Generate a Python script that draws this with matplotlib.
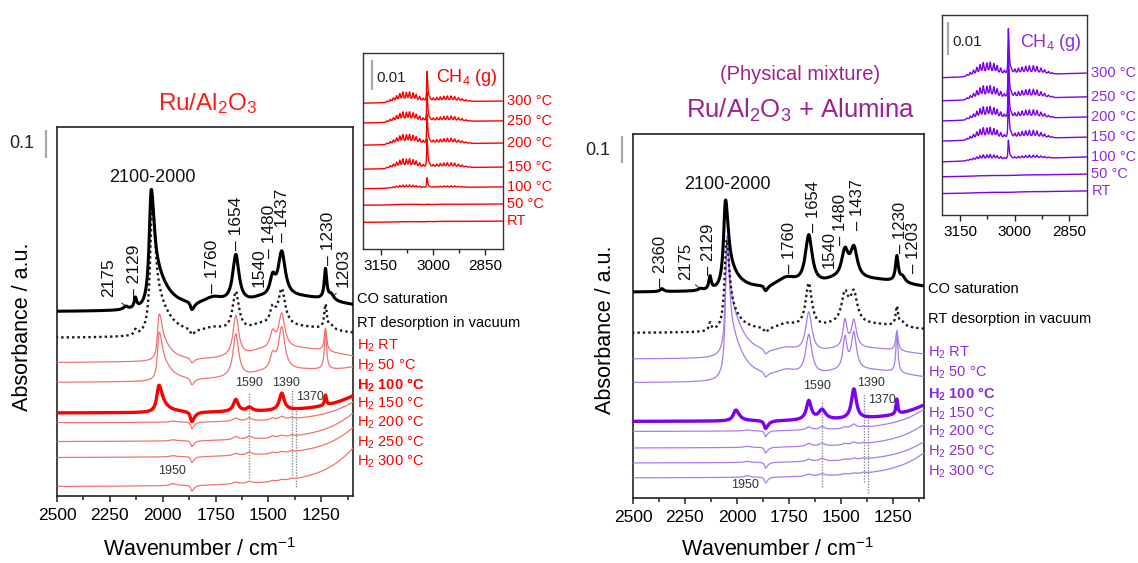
import numpy as np
import matplotlib
matplotlib.use("Agg")
import matplotlib.pyplot as plt
from matplotlib.transforms import blended_transform_factory

plt.rcParams.update({
    'font.family': ['Liberation Sans', 'DejaVu Sans'],
    'mathtext.fontset': 'custom',
    'mathtext.rm': 'Liberation Sans',
    'mathtext.it': 'Liberation Sans:italic',
    'mathtext.bf': 'Liberation Sans:bold',
})

# ---------------------------------------------------------------- data
# IR bands of each spectrum:
# (position / cm-1, height / a.u., HWHM on low-wavenumber side, HWHM on high side)

# --- Ru/Al2O3
ru_offsets = [0.657, 0.564, 0.475, 0.404, 0.296, 0.261, 0.193, 0.136, 0.032]
ru_co_sat = [(2175, 0.011, 12, 12), (2129, 0.036, 7, 7), (2055, 0.365, 15, 11),
             (2040, 0.125, 70, 15), (1862, -0.029, 15, 8), (1760, 0.029, 60, 60),
             (1654, 0.171, 18, 18), (1540, 0.011, 50, 50), (1480, 0.064, 15, 15),
             (1437, 0.161, 20, 20), (1230, 0.107, 7, 7), (1203, 0.021, 15, 15),
             (1350, 0.050, 250, 250)]
ru_rt_vac = [(2129, 0.018, 7, 7), (2050, 0.420, 15, 11), (2035, 0.125, 70, 15),
             (1862, -0.021, 15, 8), (1760, 0.018, 60, 60), (1654, 0.139, 18, 18),
             (1540, 0.018, 50, 50), (1480, 0.057, 15, 15), (1437, 0.132, 20, 20),
             (1230, 0.086, 7, 7), (1203, 0.014, 15, 15), (1350, 0.036, 250, 250)]
ru_h2_rt = [(2018, 0.136, 14, 8), (2005, 0.064, 50, 12), (1862, -0.018, 15, 8),
            (1654, 0.146, 16, 16), (1540, 0.011, 50, 50), (1480, 0.057, 15, 15),
            (1437, 0.125, 18, 18), (1230, 0.082, 7, 7), (1350, 0.050, 250, 250)]
ru_h2_50 = [(2018, 0.143, 14, 8), (2005, 0.064, 50, 12), (1862, -0.025, 15, 8),
            (1654, 0.154, 16, 16), (1540, 0.007, 50, 50), (1480, 0.054, 15, 15),
            (1437, 0.154, 18, 18), (1230, 0.143, 6, 6), (1350, 0.036, 250, 250),
            (1000, 0.054, 160, 160)]
ru_h2_100 = [(2018, 0.093, 18, 12), (2000, 0.014, 50, 12), (1862, -0.036, 15, 8),
             (1654, 0.043, 14, 14), (1590, 0.014, 15, 15), (1437, 0.061, 14, 14),
             (1230, 0.036, 5, 5), (1000, 0.086, 160, 160)]
ru_h2_150 = [(1950, 0.004, 15, 15), (1862, -0.025, 12, 6), (1654, 0.011, 15, 15),
             (1590, 0.011, 15, 15), (1480, 0.007, 12, 12), (1437, 0.011, 14, 14),
             (1390, 0.005, 10, 10), (1000, 0.104, 160, 160)]
ru_h2_200 = [(1950, 0.004, 15, 15), (1862, -0.021, 12, 6), (1654, 0.011, 15, 15),
             (1590, 0.011, 15, 15), (1480, 0.007, 12, 12), (1437, 0.007, 14, 14),
             (1390, 0.005, 10, 10), (1000, 0.143, 160, 160)]
ru_h2_250 = [(1950, 0.004, 15, 15), (1862, -0.021, 12, 6), (1654, 0.007, 15, 15),
             (1590, 0.011, 15, 15), (1480, 0.005, 12, 12), (1437, 0.005, 14, 14),
             (1390, 0.004, 10, 10), (1000, 0.150, 160, 160)]
ru_h2_300 = [(1950, 0.007, 15, 15), (1862, -0.021, 12, 6), (1654, 0.007, 15, 15),
             (1590, 0.007, 15, 15), (1480, 0.004, 12, 12), (1437, 0.004, 14, 14),
             (1390, 0.004, 10, 10), (1000, 0.193, 160, 160)]

# --- Ru/Al2O3 + alumina (physical mixture)
mix_offsets = [0.769, 0.617, 0.519, 0.430, 0.286, 0.248, 0.186, 0.130, 0.074]
mix_co_sat = [(2360, 0.011, 10, 10), (2175, 0.007, 12, 12), (2129, 0.049, 7, 7),
              (2055, 0.305, 15, 11), (2040, 0.067, 60, 15), (1862, -0.022, 15, 8),
              (1760, 0.037, 60, 60), (1654, 0.184, 20, 20), (1540, 0.011, 50, 50),
              (1480, 0.105, 20, 20), (1437, 0.112, 20, 20), (1230, 0.094, 8, 8),
              (1203, 0.022, 15, 15), (1350, 0.045, 250, 250)]
mix_rt_vac = [(2129, 0.030, 7, 7), (2050, 0.310, 15, 11), (2035, 0.067, 60, 15),
              (1862, -0.019, 15, 8), (1760, 0.022, 60, 60), (1654, 0.165, 18, 18),
              (1540, 0.007, 50, 50), (1480, 0.112, 20, 20), (1437, 0.112, 20, 20),
              (1230, 0.071, 7, 7), (1203, 0.015, 15, 15), (1350, 0.030, 250, 250)]
mix_h2_rt = [(2048, 0.356, 12, 8), (2035, 0.169, 70, 15), (1862, -0.019, 15, 8),
             (1760, 0.022, 60, 60), (1654, 0.150, 18, 18), (1540, 0.007, 50, 50),
             (1480, 0.105, 12, 12), (1437, 0.105, 15, 15), (1230, 0.075, 7, 7),
             (1350, 0.037, 250, 250)]
mix_h2_50 = [(2048, 0.431, 12, 8), (2035, 0.169, 70, 15), (1862, -0.019, 15, 8),
             (1760, 0.026, 60, 60), (1654, 0.150, 18, 18), (1540, 0.007, 50, 50),
             (1480, 0.120, 12, 12), (1437, 0.139, 15, 15), (1230, 0.150, 6, 6),
             (1350, 0.045, 250, 250)]
mix_h2_100 = [(2005, 0.041, 20, 14), (1862, -0.030, 15, 8), (1654, 0.071, 14, 14),
              (1590, 0.037, 20, 20), (1437, 0.112, 14, 14), (1230, 0.056, 5, 5),
              (1000, 0.086, 160, 160)]
mix_h2_150 = [(1950, 0.004, 15, 15), (1862, -0.022, 12, 6), (1654, 0.011, 15, 15),
              (1590, 0.011, 15, 15), (1480, 0.006, 12, 12), (1437, 0.015, 14, 14),
              (1390, 0.004, 10, 10), (1000, 0.116, 160, 160)]
mix_h2_200 = [(1950, 0.004, 15, 15), (1862, -0.022, 12, 6), (1654, 0.011, 15, 15),
              (1590, 0.011, 15, 15), (1480, 0.006, 12, 12), (1437, 0.008, 14, 14),
              (1390, 0.004, 10, 10), (1000, 0.124, 160, 160)]
mix_h2_250 = [(1950, 0.004, 15, 15), (1862, -0.022, 12, 6), (1654, 0.009, 15, 15),
              (1590, 0.011, 15, 15), (1480, 0.004, 12, 12), (1437, 0.006, 14, 14),
              (1390, 0.004, 10, 10), (1000, 0.112, 160, 160)]
mix_h2_300 = [(1950, 0.006, 15, 15), (1862, -0.022, 12, 6), (1654, 0.008, 15, 15),
              (1590, 0.008, 15, 15), (1480, 0.004, 12, 12), (1437, 0.004, 14, 14),
              (1390, 0.004, 10, 10), (1000, 0.131, 160, 160)]

spectrum_names = ['CO saturation', 'RT desorption in vacuum',
                  'H$_\\mathregular{2}$ RT', 'H$_\\mathregular{2}$ 50 °C',
                  'H$_\\mathbf{2}$ 100 °C', 'H$_\\mathregular{2}$ 150 °C',
                  'H$_\\mathregular{2}$ 200 °C', 'H$_\\mathregular{2}$ 250 °C',
                  'H$_\\mathregular{2}$ 300 °C']

# --- gas-phase CH4 (nu3 band) in the cell
ch4_q = 3017
ch4_r_lines = [3028, 3038, 3048, 3057, 3067, 3076, 3086, 3095, 3104, 3113, 3122, 3131]
ch4_r_rel = [0.35, 0.55, 0.75, 0.9, 1.0, 0.95, 1.0, 0.85, 0.65, 0.45, 0.3, 0.15]
ch4_p_lines = [3009, 2999, 2989, 2979, 2969, 2959, 2948, 2938, 2927, 2917, 2906, 2896]
ch4_p_rel = [0.4, 0.6, 0.75, 0.85, 0.95, 1.0, 1.0, 0.9, 0.7, 0.5, 0.3, 0.15]

gas_names = ['300 °C', '250 °C', '200 °C', '150 °C', '100 °C', '50 °C', 'RT']
ru_gas_offset = [0.0493, 0.0427, 0.0353, 0.0273, 0.0207, 0.0150, 0.0093]
ru_gas_tilt = [0.0007, 0.0007, 0.0007, 0.0007, 0.0006, 0.0004, 0.0004]
ru_gas_q = [0.0100, 0.0098, 0.0097, 0.0095, 0.0033, 0.0002, 0.0001]
ru_gas_r = [0.0030, 0.0030, 0.0029, 0.0028, 0.0009, 0.0002, 0.0001]
ru_gas_p = [0.0017, 0.0016, 0.0016, 0.0015, 0.0005, 0.0001, 0.0001]

mix_gas_offset = [0.0430, 0.0358, 0.0297, 0.0236, 0.0176, 0.0124, 0.0073]
mix_gas_tilt = [0.0014, 0.0012, 0.0012, 0.0012, 0.0015, 0.0008, 0.0008]
mix_gas_q = [0.0139, 0.0135, 0.0132, 0.0125, 0.0058, 0.0, 0.0]
mix_gas_r = [0.0036, 0.0036, 0.0034, 0.0032, 0.0015, 0.0001, 0.0001]
mix_gas_p = [0.0024, 0.0024, 0.0023, 0.0022, 0.0010, 0.0001, 0.0001]

# --- band assignments written on the spectra
ru_peak_text = ['2175', '– 2129', '– 1760', '– 1654', '1540', '– 1480', '– 1437', '– 1230', '1203']
ru_peak_pos = [2254, 2132, 1763, 1650, 1546, 1494, 1432, 1215, 1149]
mix_peak_text = ['– 2360', '2175', '– 2129', '– 1760', '– 1654', '1540', '– 1480',
                 '– 1437', '– 1230', '– 1203']
mix_peak_pos = [2367, 2248, 2136, 1747, 1632, 1556, 1500, 1418, 1215, 1150]
marker_bands = [1590, 1390, 1370]

# ---------------------------------------------------------------- helpers
RED, RED_THIN = '#FF0000', '#F27272'
VIO, VIO_THIN, VIO_TXT = '#7B00F5', '#A97CEB', '#8A2BE2'
MAGENTA = '#A0208F'
GREY = '#8A8A8A'


def spectrum(wn, offset, bands):
    y = np.full_like(wn, offset, dtype=float)
    for pos, h, w_lo, w_hi in bands:
        w = np.where(wn < pos, w_lo, w_hi)
        y += h * w ** 2 / ((wn - pos) ** 2 + w ** 2)
    return y


def gas_spectrum(wn, offset, tilt, q, r, p):
    y = offset - tilt * (wn - 2800) / 400.0
    w = np.where(wn < ch4_q, 2.5, 1.2)
    y += q * w ** 2 / ((wn - ch4_q) ** 2 + w ** 2)
    for pos, rel in zip(ch4_r_lines, ch4_r_rel):
        y += r * rel * 2.5 ** 2 / ((wn - pos) ** 2 + 2.5 ** 2)
    for pos, rel in zip(ch4_p_lines, ch4_p_rel):
        y += p * rel * 2.5 ** 2 / ((wn - pos) ** 2 + 2.5 ** 2)
    return y


def style_main(ax, ymax):
    ax.set_xlim(2500, 1100)
    ax.set_ylim(0, ymax)
    ax.set_yticks([])
    ax.set_xticks([2500, 2250, 2000, 1750, 1500, 1250])
    ax.set_xticks([2375, 2125, 1875, 1625, 1375, 1125], minor=True)
    ax.tick_params(axis='x', which='major', direction='out', length=4.5, width=1.1,
                   labelsize=12.5, pad=4, color='#222')
    ax.tick_params(axis='x', which='minor', direction='out', length=3, width=1.1, color='#222')
    for s in ax.spines.values():
        s.set_linewidth(1.2)
        s.set_color('#222')


def style_gas(ax, ymax):
    ax.set_xlim(3200, 2800)
    ax.set_ylim(0, ymax)
    ax.set_yticks([])
    ax.set_xticks([3150, 3000, 2850])
    ax.set_xticks([3075, 2925], minor=True)
    ax.tick_params(axis='x', which='major', direction='out', length=4, width=1.0,
                   labelsize=11, pad=3, color='#222')
    ax.tick_params(axis='x', which='minor', direction='out', length=3, width=1.0, color='#222')
    for s in ax.spines.values():
        s.set_linewidth(1.0)
        s.set_color('#333')


def draw_main(ax, curves, offsets, col, col_thin, col_txt, label_y, label_x):
    wn = np.arange(1100, 2500.5, 0.5)
    styles = [dict(color='black', lw=2.2, zorder=6),
              dict(color='#1a1a1a', lw=1.7, ls=(0, (1, 1.3)), zorder=5),
              dict(color=col_thin, lw=0.9, zorder=3),
              dict(color=col_thin, lw=0.9, zorder=3),
              dict(color=col, lw=2.4, zorder=4),
              dict(color=col_thin, lw=0.9, zorder=3),
              dict(color=col_thin, lw=0.9, zorder=3),
              dict(color=col_thin, lw=0.9, zorder=3),
              dict(color=col_thin, lw=0.9, zorder=3)]
    trans = blended_transform_factory(ax.transAxes, ax.transData)
    for i, (bands, off) in enumerate(zip(curves, offsets)):
        ax.plot(wn, spectrum(wn, off, bands), **styles[i])
        ax.text(label_x, label_y[i], spectrum_names[i], transform=trans,
                ha='left', va='center', fontsize=10.5,
                color='black' if i < 2 else col_txt,
                fontweight='bold' if i == 4 else 'normal', clip_on=False)


def draw_gas(ax, offs, tilts, qs, rs, ps, col, col_txt):
    wn = np.arange(2800, 3200.01, 0.25)
    trans = blended_transform_factory(ax.transAxes, ax.transData)
    for i in range(len(offs)):
        ax.plot(wn, gas_spectrum(wn, offs[i], tilts[i], qs[i], rs[i], ps[i]),
                color=col, lw=1.0)
        ax.text(1.03, offs[i], gas_names[i], transform=trans, ha='left',
                va='center', fontsize=10.5, color=col_txt, clip_on=False)


def scale_bar(ax, x_axes, y0, length, text, text_x, text_y, fs, ha='center'):
    trans = blended_transform_factory(ax.transAxes, ax.transData)
    ax.plot([x_axes, x_axes], [y0, y0 + length], transform=trans, color='#A8A8A8',
            lw=1.6, clip_on=False, solid_capstyle='butt')
    ax.text(text_x, text_y, text, transform=trans, ha=ha, va='center',
            fontsize=fs, color='#222', clip_on=False)


# ---------------------------------------------------------------- figure
fig = plt.figure(figsize=(11.38, 5.63), dpi=100)
ax_ru = fig.add_axes([0.0501, 0.1190, 0.2601, 0.6554])
ax_ru_gas = fig.add_axes([0.3190, 0.5577, 0.1230, 0.3481])
ax_mix = fig.add_axes([0.5562, 0.1155, 0.2557, 0.6465])
ax_mix_gas = fig.add_axes([0.8278, 0.6181, 0.1274, 0.3552])

# ---- Ru/Al2O3 main panel
style_main(ax_ru, 1.318)
draw_main(ax_ru,
          [ru_co_sat, ru_rt_vac, ru_h2_rt, ru_h2_50, ru_h2_100, ru_h2_150,
           ru_h2_200, ru_h2_250, ru_h2_300],
          ru_offsets, RED, RED_THIN, RED,
          [0.704, 0.618, 0.536, 0.464, 0.396, 0.329, 0.261, 0.189, 0.121], 1.0135)
for s, x, y in zip(ru_peak_text, ru_peak_pos,
                   [0.711, 0.707, 0.725, 0.879, 0.746, 0.850, 0.907, 0.825, 0.746]):
    ax_ru.text(x, y, s, rotation=90, ha='center', va='bottom', fontsize=12.5, color='#111')
ax_ru.plot([2194, 2171], [0.689, 0.676], color='#444', lw=0.8)
ax_ru.plot([1180, 1196], [0.724, 0.712], color='#444', lw=0.8)
ax_ru.text(2051, 1.136, '2100-2000', ha='center', va='center', fontsize=13, color='#111')
for x, (y0, y1) in zip(marker_bands, [(0.064, 0.368), (0.075, 0.379), (0.032, 0.307)]):
    ax_ru.plot([x, x], [y0, y1], color=GREY, lw=1.0, ls=(0, (1, 1)), zorder=2)
for s, x, y in zip(['1590', '1390', '1370', '1950'], [1593, 1415, 1305, 1954],
                   [0.404, 0.404, 0.354, 0.089]):
    ax_ru.text(x, y, s, ha='center', va='center', fontsize=9, color='#333', zorder=7)
scale_bar(ax_ru, -0.037, 1.207, 0.1, '0.1', -0.118, 1.26, 13)
ax_ru.text(-0.118, 0.458, 'Absorbance / a.u.', transform=ax_ru.transAxes, rotation=90,
           ha='center', va='center', fontsize=15.5)
ax_ru.text(0.483, -0.146, 'Wavenumber / cm$^{\\mathregular{-1}}$', transform=ax_ru.transAxes,
           ha='center', va='center', fontsize=15.5)

# ---- Ru/Al2O3 gas-phase inset
style_gas(ax_ru_gas, 0.0653)
draw_gas(ax_ru_gas, ru_gas_offset, ru_gas_tilt, ru_gas_q, ru_gas_r, ru_gas_p, RED, RED)
scale_bar(ax_ru_gas, 0.064, 0.053, 0.01, '0.01', 0.093, 0.057, 11, ha='left')
ax_ru_gas.text(0.521, 0.057, 'CH$_\\mathregular{4}$ (g)', transform=blended_transform_factory(
    ax_ru_gas.transAxes, ax_ru_gas.transData), ha='left', va='center', fontsize=13, color=RED)

# ---- physical mixture main panel
style_main(ax_mix, 1.363)
draw_main(ax_mix,
          [mix_co_sat, mix_rt_vac, mix_h2_rt, mix_h2_50, mix_h2_100, mix_h2_150,
           mix_h2_200, mix_h2_250, mix_h2_300],
          mix_offsets, VIO, VIO_THIN, VIO_TXT,
          [0.782, 0.669, 0.542, 0.467, 0.390, 0.317, 0.246, 0.173, 0.099], 1.0137)
for s, x, y in zip(mix_peak_text, mix_peak_pos,
                   [0.791, 0.816, 0.835, 0.843, 0.996, 0.861, 0.948, 1.004, 0.918, 0.843]):
    ax_mix.text(x, y, s, rotation=90, ha='center', va='bottom', fontsize=12, color='#111')
ax_mix.plot([2199, 2179], [0.798, 0.786], color='#444', lw=0.8)
ax_mix.text(2048, 1.172, '2100-2000', ha='center', va='center', fontsize=13, color='#111')
for x, (y0, y1) in zip(marker_bands, [(0.042, 0.361), (0.061, 0.393), (0.019, 0.323)]):
    ax_mix.plot([x, x], [y0, y1], color=GREY, lw=1.0, ls=(0, (1, 1)), zorder=2)
for s, x, y in zip(['1590', '1390', '1370', '1950'], [1615, 1357, 1303, 1960],
                   [0.421, 0.430, 0.367, 0.049]):
    ax_mix.text(x, y, s, ha='center', va='center', fontsize=9, color='#333', zorder=7)
scale_bar(ax_mix, -0.038, 1.255, 0.1, '0.1', -0.12, 1.303, 13)
ax_mix.text(-0.096, 0.462, 'Absorbance / a.u.', transform=ax_mix.transAxes, rotation=90,
            ha='center', va='center', fontsize=15.5)
ax_mix.text(0.498, -0.143, 'Wavenumber / cm$^{\\mathregular{-1}}$', transform=ax_mix.transAxes,
            ha='center', va='center', fontsize=15.5)

# ---- physical mixture gas-phase inset
style_gas(ax_mix_gas, 0.0606)
draw_gas(ax_mix_gas, mix_gas_offset, mix_gas_tilt, mix_gas_q, mix_gas_r, mix_gas_p,
         VIO, VIO_TXT)
scale_bar(ax_mix_gas, 0.041, 0.0485, 0.01, '0.01', 0.069, 0.0524, 11, ha='left')
ax_mix_gas.text(0.538, 0.0524, 'CH$_\\mathregular{4}$ (g)', transform=blended_transform_factory(
    ax_mix_gas.transAxes, ax_mix_gas.transData), ha='left', va='center', fontsize=13,
    color=VIO_TXT)

# ---- titles
fig.text(0.1828, 0.8153, 'Ru/Al$_\\mathregular{2}$O$_\\mathregular{3}$', ha='center',
         va='center', fontsize=17.5, color='#FF1A1A')
fig.text(0.703, 0.8668, '(Physical mixture)', ha='center', va='center', fontsize=14.5,
         color=MAGENTA)
fig.text(0.7039, 0.8046, 'Ru/Al$_\\mathregular{2}$O$_\\mathregular{3}$ + Alumina',
         ha='center', va='center', fontsize=18.5, color=MAGENTA)

fig.savefig('out.png', dpi=100)
